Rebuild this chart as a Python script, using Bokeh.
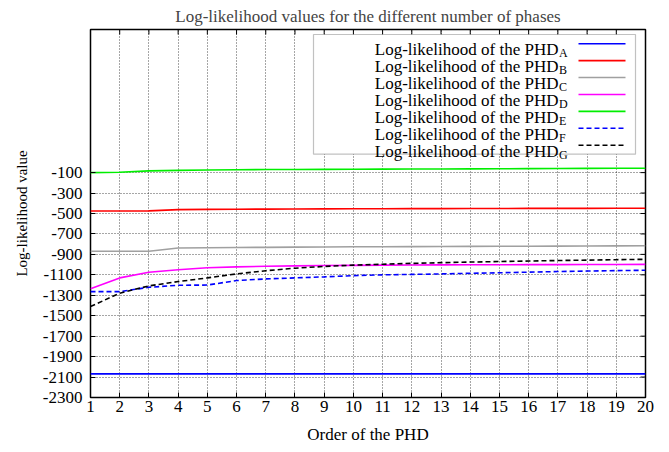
from math import pi
from bokeh.plotting import figure
from bokeh.models import Range1d, FixedTicker, BoxAnnotation, Label, Arrow
from bokeh.embed import file_html
from bokeh.resources import INLINE

# ---------------- data ----------------
orders = [1, 2, 3, 4, 5, 6, 7, 8, 9, 10, 11, 12, 13, 14, 15, 16, 17, 18, 19, 20]
phd_a = [-2069, -2069, -2069, -2069, -2069, -2069, -2069, -2069, -2069, -2069,
         -2069, -2069, -2069, -2069, -2069, -2069, -2069, -2069, -2069, -2069]
phd_b = [-475, -475, -474, -462, -460, -458, -457, -456, -455, -454,
         -453, -452, -452, -451, -451, -450, -450, -450, -449, -449]
phd_c = [-870, -870, -869, -837, -835, -833, -831, -829, -828, -826,
         -825, -824, -823, -822, -821, -820, -819, -818, -817, -816]
phd_d = [-1235, -1130, -1075, -1050, -1030, -1022, -1016, -1012, -1009, -1007,
         -1005, -1004, -1003, -1002, -1001, -1000, -1000, -999, -999, -998]
phd_e = [-100, -97, -83, -78, -74, -72, -70, -69, -68, -67,
         -66, -65, -64, -63, -62, -61, -60, -59, -58, -57]
phd_f = [-1264, -1264, -1222, -1202, -1200, -1156, -1140, -1130, -1120, -1108,
         -1100, -1096, -1091, -1085, -1080, -1074, -1068, -1063, -1059, -1055]
phd_g = [-1410, -1280, -1208, -1166, -1130, -1091, -1060, -1035, -1018, -1005,
         -996, -988, -981, -975, -970, -965, -960, -956, -952, -948]

x_ticks = [1, 2, 3, 4, 5, 6, 7, 8, 9, 10, 11, 12, 13, 14, 15, 16, 17, 18, 19, 20]
y_ticks = [-2300, -2100, -1900, -1700, -1500, -1300, -1100, -900, -700, -500, -300, -100]
x_tick_labels = ["1", "2", "3", "4", "5", "6", "7", "8", "9", "10",
                 "11", "12", "13", "14", "15", "16", "17", "18", "19", "20"]
y_tick_labels = ["-2300", "-2100", "-1900", "-1700", "-1500", "-1300",
                 "-1100", "-900", "-700", "-500", "-300", "-100"]
subscripts = ["A", "B", "C", "D", "E", "F", "G"]

title_text = "Log-likelihood values for the different number of phases"
x_label = "Order of the PHD"
y_label = "Log-likelihood value"
legend_text = "Log-likelihood of the PHD"

# ---------------- styling ----------------
FONT = "Liberation Serif"
XMIN, XMAX = 1, 20
YMIN, YMAX = -2300, 1300

series = [
    (phd_a, "#0000ff", None),
    (phd_b, "#ff0000", None),
    (phd_c, "#a0a0a0", None),
    (phd_d, "#ff00ff", None),
    (phd_e, "#00ee00", None),
    (phd_f, "#0000ff", "5 3"),
    (phd_g, "#000000", "5 3"),
]

# frame position on page (pixels)
FX0, FX1, FY0, FY1 = 90, 645, 28, 397
W, H = 665, 450


def dx(px):
    return XMIN + (px - FX0) * (XMAX - XMIN) / (FX1 - FX0)


def dy(py):
    return YMAX - (py - FY0) * (YMAX - YMIN) / (FY1 - FY0)


p = figure(width=W, height=H, output_backend="svg", toolbar_location=None,
           x_range=Range1d(XMIN, XMAX), y_range=Range1d(YMIN, YMAX),
           min_border_left=FX0, min_border_right=W - FX1, min_border_top=FY0,
           min_border_bottom=H - FY1, title=title_text)

p.background_fill_color = "white"
p.border_fill_color = "white"
p.outline_line_color = "black"
p.outline_line_width = 1.5

p.title.text_font = FONT
p.title.text_font_size = "17px"
p.title.text_font_style = "normal"
p.title.align = "center"
p.title.standoff = 8

xt = FixedTicker(ticks=x_ticks)
yt = FixedTicker(ticks=y_ticks)
p.xaxis.ticker = xt
p.yaxis.ticker = yt
p.xaxis.major_label_overrides = dict(zip(x_ticks, x_tick_labels))
p.yaxis.major_label_overrides = dict(zip(y_ticks, y_tick_labels))

p.axis.major_label_text_font = FONT
p.axis.major_label_text_font_size = "17px"
p.axis.major_label_text_font_style = "normal"
p.axis.major_label_text_color = "black"
p.axis.axis_label_text_font = FONT
p.axis.axis_label_text_font_style = "normal"
p.axis.axis_label_text_color = "black"
p.axis.major_tick_in = 5
p.axis.major_tick_out = 0
p.axis.minor_tick_in = 0
p.axis.minor_tick_out = 0
p.axis.axis_line_color = None
p.axis.major_tick_line_color = "black"

p.xaxis.axis_label = x_label
p.yaxis.axis_label = y_label
p.xaxis.axis_label_text_font_size = "17px"
p.yaxis.axis_label_text_font_size = "15px"
p.xaxis.major_label_standoff = 3
p.yaxis.major_label_standoff = 8
p.xaxis.axis_label_standoff = 10
p.yaxis.axis_label_standoff = 10

p.xgrid.ticker = xt
p.ygrid.ticker = yt
p.grid.grid_line_color = "black"
p.grid.grid_line_dash = "1 2"
p.grid.grid_line_width = 1
p.grid.grid_line_alpha = 0.7

# mirrored inward ticks on the top and right edges
p.ray(x=x_ticks, y=[YMAX] * len(x_ticks), length=5, length_units="screen",
      angle=-pi / 2, line_color="black", line_width=1)
p.ray(x=[XMAX] * len(y_ticks), y=y_ticks, length=5, length_units="screen",
      angle=pi, line_color="black", line_width=1)

for vals, col, dash in series:
    kw = dict(line_color=col, line_width=1.6)
    if dash:
        kw["line_dash"] = dash
    p.line(orders, vals, **kw)

# ---------------- legend (drawn manually for subscripts) ----------------
p.add_layout(BoxAnnotation(left=dx(313), right=dx(635), top=dy(33), bottom=dy(153),
                           fill_color="white", fill_alpha=1.0,
                           line_color="#333333", line_width=1.2, level="annotation"))
row0 = 42.3
pitch = 16.95
for i, (vals, col, dash) in enumerate(series):
    yc = row0 + i * pitch
    p.add_layout(Label(x=dx(558), y=dy(yc + 6.0), text=legend_text,
                       text_font=FONT, text_font_size="17px", text_align="right",
                       text_baseline="alphabetic", text_color="black"))
    p.add_layout(Label(x=dx(558.5), y=dy(yc + 9.5), text=subscripts[i],
                       text_font=FONT, text_font_size="12px", text_align="left",
                       text_baseline="alphabetic", text_color="black"))
    akw = dict(x_start=dx(578), y_start=dy(yc), x_end=dx(625), y_end=dy(yc),
               line_color=col, line_width=1.6, end=None)
    if dash:
        akw["line_dash"] = dash
    p.add_layout(Arrow(**akw))

open("out.html", "w").write(file_html(p, INLINE))
